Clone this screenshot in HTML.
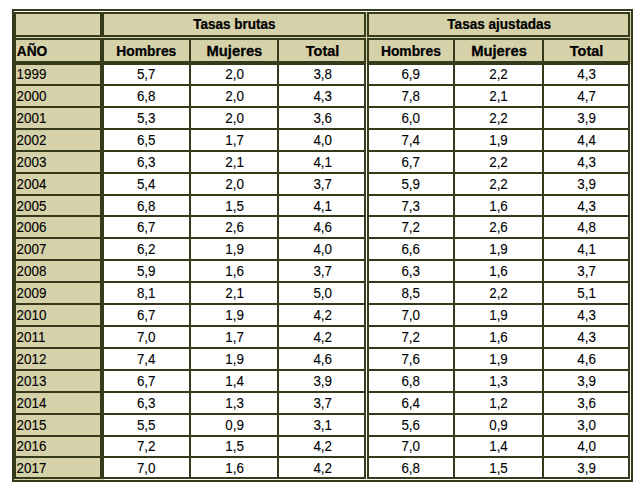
<!DOCTYPE html>
<html><head><meta charset="utf-8"><style>
html,body{margin:0;padding:0;background:#fff;width:644px;height:490px;overflow:hidden}
svg{display:block}
text{font-family:"Liberation Sans", sans-serif;fill:#000}
text.d{stroke:#000;stroke-width:0.1px}
text.b{stroke:#000;stroke-width:0.25px}
</style></head><body>
<svg width="644" height="490" viewBox="0 0 644 490">
<rect x="12" y="12" width="621" height="53" fill="#d5d1a9"/>
<rect x="12" y="12" width="92" height="470" fill="#d5d1a9"/>
<rect x="12" y="9" width="4" height="473" fill="#353a1a"/>
<rect x="12" y="9" width="621" height="2" fill="#353a1a"/>
<rect x="14" y="12" width="616" height="2" fill="#353a1a"/>
<rect x="12" y="35" width="618" height="2" fill="#353a1a"/>
<rect x="12" y="38" width="618" height="2" fill="#353a1a"/>
<rect x="12" y="61" width="618" height="4" fill="#353a1a"/>
<rect x="12" y="84" width="618" height="2" fill="#353a1a"/>
<rect x="12" y="106" width="618" height="2" fill="#353a1a"/>
<rect x="12" y="128" width="618" height="2" fill="#353a1a"/>
<rect x="12" y="150" width="618" height="2" fill="#353a1a"/>
<rect x="12" y="172" width="618" height="2" fill="#353a1a"/>
<rect x="12" y="194" width="618" height="2" fill="#353a1a"/>
<rect x="12" y="215" width="618" height="2" fill="#353a1a"/>
<rect x="12" y="237" width="618" height="2" fill="#353a1a"/>
<rect x="12" y="259" width="618" height="2" fill="#353a1a"/>
<rect x="12" y="281" width="618" height="2" fill="#353a1a"/>
<rect x="12" y="303" width="618" height="2" fill="#353a1a"/>
<rect x="12" y="325" width="618" height="2" fill="#353a1a"/>
<rect x="12" y="347" width="618" height="2" fill="#353a1a"/>
<rect x="12" y="369" width="618" height="2" fill="#353a1a"/>
<rect x="12" y="391" width="618" height="2" fill="#353a1a"/>
<rect x="12" y="413" width="618" height="2" fill="#353a1a"/>
<rect x="12" y="435" width="618" height="2" fill="#353a1a"/>
<rect x="12" y="456" width="618" height="2" fill="#353a1a"/>
<rect x="14" y="477" width="616" height="2" fill="#353a1a"/>
<rect x="12" y="480" width="621" height="2" fill="#353a1a"/>
<rect x="100" y="14" width="4" height="463" fill="#353a1a"/>
<rect x="189" y="38" width="2" height="441" fill="#353a1a"/>
<rect x="277" y="38" width="2" height="441" fill="#353a1a"/>
<rect x="453" y="38" width="2" height="441" fill="#353a1a"/>
<rect x="542" y="38" width="2" height="441" fill="#353a1a"/>
<rect x="364" y="12" width="2" height="467" fill="#353a1a"/>
<rect x="367" y="12" width="2" height="467" fill="#353a1a"/>
<rect x="628" y="12" width="2" height="467" fill="#353a1a"/>
<rect x="631" y="9" width="2" height="473" fill="#353a1a"/>
<rect x="14" y="11" width="617" height="1" fill="#ffffff"/>
<rect x="16" y="37" width="614" height="1" fill="#d5d1a9"/>
<rect x="14" y="479" width="617" height="1" fill="#ffffff"/>
<rect x="14" y="479" width="90" height="1" fill="#d5d1a9"/>
<rect x="630" y="11" width="1" height="469" fill="#ffffff"/>
<rect x="630" y="12" width="1" height="52" fill="#d5d1a9"/>
<rect x="366" y="11" width="1" height="468" fill="#ffffff"/>
<rect x="366" y="12" width="1" height="52" fill="#d5d1a9"/>
<rect x="366" y="37" width="1" height="1" fill="#d5d1a9"/>
<rect x="630" y="37" width="1" height="1" fill="#d5d1a9"/>
<text class="b" transform="translate(234.4 28.8) scale(0.932 1)" font-size="14.5" text-anchor="middle" font-weight="bold">Tasas brutas</text>
<text class="b" transform="translate(499.2 28.8) scale(0.936 1)" font-size="14.5" text-anchor="middle" font-weight="bold">Tasas ajustadas</text>
<text class="b" transform="translate(16.8 55.6) scale(0.947 1)" font-size="14.5" text-anchor="start" font-weight="bold">AÑO</text>
<text class="b" transform="translate(146.3 55.6) scale(0.955 1)" font-size="14.5" text-anchor="middle" font-weight="bold">Hombres</text>
<text class="b" transform="translate(234.4 55.6) scale(1.02 1)" font-size="14.5" text-anchor="middle" font-weight="bold">Mujeres</text>
<text class="b" x="322.6" y="55.6" font-size="14.5" text-anchor="middle" font-weight="bold">Total</text>
<text class="b" transform="translate(410.9 55.6) scale(0.955 1)" font-size="14.5" text-anchor="middle" font-weight="bold">Hombres</text>
<text class="b" transform="translate(499.1 55.6) scale(1.02 1)" font-size="14.5" text-anchor="middle" font-weight="bold">Mujeres</text>
<text class="b" x="586.6" y="55.6" font-size="14.5" text-anchor="middle" font-weight="bold">Total</text>
<text class="d" transform="translate(16.6 79) scale(0.971 1)" font-size="13.8" text-anchor="start">1999</text>
<text class="d" transform="translate(146.2 79) scale(0.971 1)" font-size="13.8" text-anchor="middle">5,7</text>
<text class="d" transform="translate(234.6 79) scale(0.971 1)" font-size="13.8" text-anchor="middle">2,0</text>
<text class="d" transform="translate(322.7 79) scale(0.971 1)" font-size="13.8" text-anchor="middle">3,8</text>
<text class="d" transform="translate(410.7 79) scale(0.971 1)" font-size="13.8" text-anchor="middle">6,9</text>
<text class="d" transform="translate(498.5 79) scale(0.971 1)" font-size="13.8" text-anchor="middle">2,2</text>
<text class="d" transform="translate(586.6 79) scale(0.971 1)" font-size="13.8" text-anchor="middle">4,3</text>
<text class="d" transform="translate(16.6 101) scale(0.971 1)" font-size="13.8" text-anchor="start">2000</text>
<text class="d" transform="translate(146.2 101) scale(0.971 1)" font-size="13.8" text-anchor="middle">6,8</text>
<text class="d" transform="translate(234.6 101) scale(0.971 1)" font-size="13.8" text-anchor="middle">2,0</text>
<text class="d" transform="translate(322.7 101) scale(0.971 1)" font-size="13.8" text-anchor="middle">4,3</text>
<text class="d" transform="translate(410.7 101) scale(0.971 1)" font-size="13.8" text-anchor="middle">7,8</text>
<text class="d" transform="translate(498.5 101) scale(0.971 1)" font-size="13.8" text-anchor="middle">2,1</text>
<text class="d" transform="translate(586.6 101) scale(0.971 1)" font-size="13.8" text-anchor="middle">4,7</text>
<text class="d" transform="translate(16.6 123) scale(0.971 1)" font-size="13.8" text-anchor="start">2001</text>
<text class="d" transform="translate(146.2 123) scale(0.971 1)" font-size="13.8" text-anchor="middle">5,3</text>
<text class="d" transform="translate(234.6 123) scale(0.971 1)" font-size="13.8" text-anchor="middle">2,0</text>
<text class="d" transform="translate(322.7 123) scale(0.971 1)" font-size="13.8" text-anchor="middle">3,6</text>
<text class="d" transform="translate(410.7 123) scale(0.971 1)" font-size="13.8" text-anchor="middle">6,0</text>
<text class="d" transform="translate(498.5 123) scale(0.971 1)" font-size="13.8" text-anchor="middle">2,2</text>
<text class="d" transform="translate(586.6 123) scale(0.971 1)" font-size="13.8" text-anchor="middle">3,9</text>
<text class="d" transform="translate(16.6 145) scale(0.971 1)" font-size="13.8" text-anchor="start">2002</text>
<text class="d" transform="translate(146.2 145) scale(0.971 1)" font-size="13.8" text-anchor="middle">6,5</text>
<text class="d" transform="translate(234.6 145) scale(0.971 1)" font-size="13.8" text-anchor="middle">1,7</text>
<text class="d" transform="translate(322.7 145) scale(0.971 1)" font-size="13.8" text-anchor="middle">4,0</text>
<text class="d" transform="translate(410.7 145) scale(0.971 1)" font-size="13.8" text-anchor="middle">7,4</text>
<text class="d" transform="translate(498.5 145) scale(0.971 1)" font-size="13.8" text-anchor="middle">1,9</text>
<text class="d" transform="translate(586.6 145) scale(0.971 1)" font-size="13.8" text-anchor="middle">4,4</text>
<text class="d" transform="translate(16.6 167) scale(0.971 1)" font-size="13.8" text-anchor="start">2003</text>
<text class="d" transform="translate(146.2 167) scale(0.971 1)" font-size="13.8" text-anchor="middle">6,3</text>
<text class="d" transform="translate(234.6 167) scale(0.971 1)" font-size="13.8" text-anchor="middle">2,1</text>
<text class="d" transform="translate(322.7 167) scale(0.971 1)" font-size="13.8" text-anchor="middle">4,1</text>
<text class="d" transform="translate(410.7 167) scale(0.971 1)" font-size="13.8" text-anchor="middle">6,7</text>
<text class="d" transform="translate(498.5 167) scale(0.971 1)" font-size="13.8" text-anchor="middle">2,2</text>
<text class="d" transform="translate(586.6 167) scale(0.971 1)" font-size="13.8" text-anchor="middle">4,3</text>
<text class="d" transform="translate(16.6 189) scale(0.971 1)" font-size="13.8" text-anchor="start">2004</text>
<text class="d" transform="translate(146.2 189) scale(0.971 1)" font-size="13.8" text-anchor="middle">5,4</text>
<text class="d" transform="translate(234.6 189) scale(0.971 1)" font-size="13.8" text-anchor="middle">2,0</text>
<text class="d" transform="translate(322.7 189) scale(0.971 1)" font-size="13.8" text-anchor="middle">3,7</text>
<text class="d" transform="translate(410.7 189) scale(0.971 1)" font-size="13.8" text-anchor="middle">5,9</text>
<text class="d" transform="translate(498.5 189) scale(0.971 1)" font-size="13.8" text-anchor="middle">2,2</text>
<text class="d" transform="translate(586.6 189) scale(0.971 1)" font-size="13.8" text-anchor="middle">3,9</text>
<text class="d" transform="translate(16.6 211) scale(0.971 1)" font-size="13.8" text-anchor="start">2005</text>
<text class="d" transform="translate(146.2 211) scale(0.971 1)" font-size="13.8" text-anchor="middle">6,8</text>
<text class="d" transform="translate(234.6 211) scale(0.971 1)" font-size="13.8" text-anchor="middle">1,5</text>
<text class="d" transform="translate(322.7 211) scale(0.971 1)" font-size="13.8" text-anchor="middle">4,1</text>
<text class="d" transform="translate(410.7 211) scale(0.971 1)" font-size="13.8" text-anchor="middle">7,3</text>
<text class="d" transform="translate(498.5 211) scale(0.971 1)" font-size="13.8" text-anchor="middle">1,6</text>
<text class="d" transform="translate(586.6 211) scale(0.971 1)" font-size="13.8" text-anchor="middle">4,3</text>
<text class="d" transform="translate(16.6 232) scale(0.971 1)" font-size="13.8" text-anchor="start">2006</text>
<text class="d" transform="translate(146.2 232) scale(0.971 1)" font-size="13.8" text-anchor="middle">6,7</text>
<text class="d" transform="translate(234.6 232) scale(0.971 1)" font-size="13.8" text-anchor="middle">2,6</text>
<text class="d" transform="translate(322.7 232) scale(0.971 1)" font-size="13.8" text-anchor="middle">4,6</text>
<text class="d" transform="translate(410.7 232) scale(0.971 1)" font-size="13.8" text-anchor="middle">7,2</text>
<text class="d" transform="translate(498.5 232) scale(0.971 1)" font-size="13.8" text-anchor="middle">2,6</text>
<text class="d" transform="translate(586.6 232) scale(0.971 1)" font-size="13.8" text-anchor="middle">4,8</text>
<text class="d" transform="translate(16.6 254) scale(0.971 1)" font-size="13.8" text-anchor="start">2007</text>
<text class="d" transform="translate(146.2 254) scale(0.971 1)" font-size="13.8" text-anchor="middle">6,2</text>
<text class="d" transform="translate(234.6 254) scale(0.971 1)" font-size="13.8" text-anchor="middle">1,9</text>
<text class="d" transform="translate(322.7 254) scale(0.971 1)" font-size="13.8" text-anchor="middle">4,0</text>
<text class="d" transform="translate(410.7 254) scale(0.971 1)" font-size="13.8" text-anchor="middle">6,6</text>
<text class="d" transform="translate(498.5 254) scale(0.971 1)" font-size="13.8" text-anchor="middle">1,9</text>
<text class="d" transform="translate(586.6 254) scale(0.971 1)" font-size="13.8" text-anchor="middle">4,1</text>
<text class="d" transform="translate(16.6 276) scale(0.971 1)" font-size="13.8" text-anchor="start">2008</text>
<text class="d" transform="translate(146.2 276) scale(0.971 1)" font-size="13.8" text-anchor="middle">5,9</text>
<text class="d" transform="translate(234.6 276) scale(0.971 1)" font-size="13.8" text-anchor="middle">1,6</text>
<text class="d" transform="translate(322.7 276) scale(0.971 1)" font-size="13.8" text-anchor="middle">3,7</text>
<text class="d" transform="translate(410.7 276) scale(0.971 1)" font-size="13.8" text-anchor="middle">6,3</text>
<text class="d" transform="translate(498.5 276) scale(0.971 1)" font-size="13.8" text-anchor="middle">1,6</text>
<text class="d" transform="translate(586.6 276) scale(0.971 1)" font-size="13.8" text-anchor="middle">3,7</text>
<text class="d" transform="translate(16.6 298) scale(0.971 1)" font-size="13.8" text-anchor="start">2009</text>
<text class="d" transform="translate(146.2 298) scale(0.971 1)" font-size="13.8" text-anchor="middle">8,1</text>
<text class="d" transform="translate(234.6 298) scale(0.971 1)" font-size="13.8" text-anchor="middle">2,1</text>
<text class="d" transform="translate(322.7 298) scale(0.971 1)" font-size="13.8" text-anchor="middle">5,0</text>
<text class="d" transform="translate(410.7 298) scale(0.971 1)" font-size="13.8" text-anchor="middle">8,5</text>
<text class="d" transform="translate(498.5 298) scale(0.971 1)" font-size="13.8" text-anchor="middle">2,2</text>
<text class="d" transform="translate(586.6 298) scale(0.971 1)" font-size="13.8" text-anchor="middle">5,1</text>
<text class="d" transform="translate(16.6 320) scale(0.971 1)" font-size="13.8" text-anchor="start">2010</text>
<text class="d" transform="translate(146.2 320) scale(0.971 1)" font-size="13.8" text-anchor="middle">6,7</text>
<text class="d" transform="translate(234.6 320) scale(0.971 1)" font-size="13.8" text-anchor="middle">1,9</text>
<text class="d" transform="translate(322.7 320) scale(0.971 1)" font-size="13.8" text-anchor="middle">4,2</text>
<text class="d" transform="translate(410.7 320) scale(0.971 1)" font-size="13.8" text-anchor="middle">7,0</text>
<text class="d" transform="translate(498.5 320) scale(0.971 1)" font-size="13.8" text-anchor="middle">1,9</text>
<text class="d" transform="translate(586.6 320) scale(0.971 1)" font-size="13.8" text-anchor="middle">4,3</text>
<text class="d" transform="translate(16.6 342) scale(0.971 1)" font-size="13.8" text-anchor="start">2011</text>
<text class="d" transform="translate(146.2 342) scale(0.971 1)" font-size="13.8" text-anchor="middle">7,0</text>
<text class="d" transform="translate(234.6 342) scale(0.971 1)" font-size="13.8" text-anchor="middle">1,7</text>
<text class="d" transform="translate(322.7 342) scale(0.971 1)" font-size="13.8" text-anchor="middle">4,2</text>
<text class="d" transform="translate(410.7 342) scale(0.971 1)" font-size="13.8" text-anchor="middle">7,2</text>
<text class="d" transform="translate(498.5 342) scale(0.971 1)" font-size="13.8" text-anchor="middle">1,6</text>
<text class="d" transform="translate(586.6 342) scale(0.971 1)" font-size="13.8" text-anchor="middle">4,3</text>
<text class="d" transform="translate(16.6 364) scale(0.971 1)" font-size="13.8" text-anchor="start">2012</text>
<text class="d" transform="translate(146.2 364) scale(0.971 1)" font-size="13.8" text-anchor="middle">7,4</text>
<text class="d" transform="translate(234.6 364) scale(0.971 1)" font-size="13.8" text-anchor="middle">1,9</text>
<text class="d" transform="translate(322.7 364) scale(0.971 1)" font-size="13.8" text-anchor="middle">4,6</text>
<text class="d" transform="translate(410.7 364) scale(0.971 1)" font-size="13.8" text-anchor="middle">7,6</text>
<text class="d" transform="translate(498.5 364) scale(0.971 1)" font-size="13.8" text-anchor="middle">1,9</text>
<text class="d" transform="translate(586.6 364) scale(0.971 1)" font-size="13.8" text-anchor="middle">4,6</text>
<text class="d" transform="translate(16.6 386) scale(0.971 1)" font-size="13.8" text-anchor="start">2013</text>
<text class="d" transform="translate(146.2 386) scale(0.971 1)" font-size="13.8" text-anchor="middle">6,7</text>
<text class="d" transform="translate(234.6 386) scale(0.971 1)" font-size="13.8" text-anchor="middle">1,4</text>
<text class="d" transform="translate(322.7 386) scale(0.971 1)" font-size="13.8" text-anchor="middle">3,9</text>
<text class="d" transform="translate(410.7 386) scale(0.971 1)" font-size="13.8" text-anchor="middle">6,8</text>
<text class="d" transform="translate(498.5 386) scale(0.971 1)" font-size="13.8" text-anchor="middle">1,3</text>
<text class="d" transform="translate(586.6 386) scale(0.971 1)" font-size="13.8" text-anchor="middle">3,9</text>
<text class="d" transform="translate(16.6 408) scale(0.971 1)" font-size="13.8" text-anchor="start">2014</text>
<text class="d" transform="translate(146.2 408) scale(0.971 1)" font-size="13.8" text-anchor="middle">6,3</text>
<text class="d" transform="translate(234.6 408) scale(0.971 1)" font-size="13.8" text-anchor="middle">1,3</text>
<text class="d" transform="translate(322.7 408) scale(0.971 1)" font-size="13.8" text-anchor="middle">3,7</text>
<text class="d" transform="translate(410.7 408) scale(0.971 1)" font-size="13.8" text-anchor="middle">6,4</text>
<text class="d" transform="translate(498.5 408) scale(0.971 1)" font-size="13.8" text-anchor="middle">1,2</text>
<text class="d" transform="translate(586.6 408) scale(0.971 1)" font-size="13.8" text-anchor="middle">3,6</text>
<text class="d" transform="translate(16.6 430) scale(0.971 1)" font-size="13.8" text-anchor="start">2015</text>
<text class="d" transform="translate(146.2 430) scale(0.971 1)" font-size="13.8" text-anchor="middle">5,5</text>
<text class="d" transform="translate(234.6 430) scale(0.971 1)" font-size="13.8" text-anchor="middle">0,9</text>
<text class="d" transform="translate(322.7 430) scale(0.971 1)" font-size="13.8" text-anchor="middle">3,1</text>
<text class="d" transform="translate(410.7 430) scale(0.971 1)" font-size="13.8" text-anchor="middle">5,6</text>
<text class="d" transform="translate(498.5 430) scale(0.971 1)" font-size="13.8" text-anchor="middle">0,9</text>
<text class="d" transform="translate(586.6 430) scale(0.971 1)" font-size="13.8" text-anchor="middle">3,0</text>
<text class="d" transform="translate(16.6 451) scale(0.971 1)" font-size="13.8" text-anchor="start">2016</text>
<text class="d" transform="translate(146.2 451) scale(0.971 1)" font-size="13.8" text-anchor="middle">7,2</text>
<text class="d" transform="translate(234.6 451) scale(0.971 1)" font-size="13.8" text-anchor="middle">1,5</text>
<text class="d" transform="translate(322.7 451) scale(0.971 1)" font-size="13.8" text-anchor="middle">4,2</text>
<text class="d" transform="translate(410.7 451) scale(0.971 1)" font-size="13.8" text-anchor="middle">7,0</text>
<text class="d" transform="translate(498.5 451) scale(0.971 1)" font-size="13.8" text-anchor="middle">1,4</text>
<text class="d" transform="translate(586.6 451) scale(0.971 1)" font-size="13.8" text-anchor="middle">4,0</text>
<text class="d" transform="translate(16.6 473) scale(0.971 1)" font-size="13.8" text-anchor="start">2017</text>
<text class="d" transform="translate(146.2 473) scale(0.971 1)" font-size="13.8" text-anchor="middle">7,0</text>
<text class="d" transform="translate(234.6 473) scale(0.971 1)" font-size="13.8" text-anchor="middle">1,6</text>
<text class="d" transform="translate(322.7 473) scale(0.971 1)" font-size="13.8" text-anchor="middle">4,2</text>
<text class="d" transform="translate(410.7 473) scale(0.971 1)" font-size="13.8" text-anchor="middle">6,8</text>
<text class="d" transform="translate(498.5 473) scale(0.971 1)" font-size="13.8" text-anchor="middle">1,5</text>
<text class="d" transform="translate(586.6 473) scale(0.971 1)" font-size="13.8" text-anchor="middle">3,9</text>
</svg>
</body></html>
